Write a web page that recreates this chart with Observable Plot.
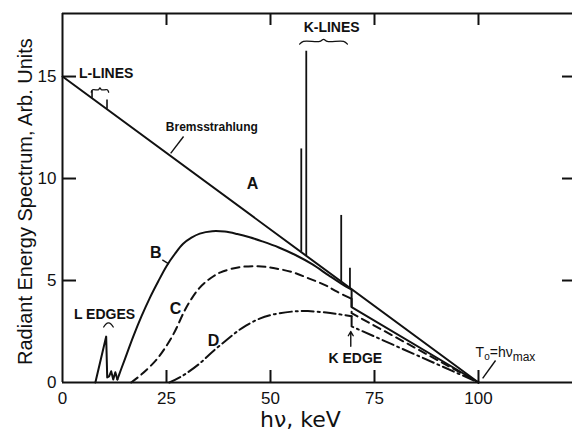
<!DOCTYPE html>
<html><head><meta charset="utf-8">
<script src="https://cdn.jsdelivr.net/npm/d3@7"></script>
<script src="https://cdn.jsdelivr.net/npm/@observablehq/plot@0.6"></script>
<style>body{margin:0;background:#fff;} svg{display:block}</style>
</head><body><div id="chart"></div>
<script>
// ---- data ----
const xTicks = [0, 25, 50, 75, 100];
const yTicks = [0, 5, 10, 15];
const innerXTicks = [25, 50, 75, 100];
const innerYTicks = [5, 10, 15];

// A: unfiltered bremsstrahlung
const aEnergy = [0, 100];
const aValue = [15, 0];
// characteristic lines (spikes)
const lLineEnergy = [7.1, 10.7];
const lLineBase = [13.93, 13.4];
const lLineTop = [14.3, 13.85];
const kLineEnergy = [57.4, 58.6, 67.0, 69.1];
const kLineBase = [6.39, 6.21, 4.95, 4.6];
const kLineTop = [11.45, 16.24, 8.19, 5.6];
// B
const bEdgeEnergy = [7.9, 10.5, 10.75, 11.2, 11.7, 12.2, 12.7, 13.2];
const bEdgeValue = [0, 2.25, 0.25, 0.3, 0.55, 0.15, 0.5, 0.15];
const bEnergy = [13.2, 14, 15, 17, 19, 21, 23, 25, 27, 29, 31, 33, 36, 39, 42, 45, 48, 52, 56, 60, 64, 67, 69.5];
const bValue = [0.15, 0.6, 1.15, 2.25, 3.25, 4.15, 4.95, 5.7, 6.3, 6.8, 7.1, 7.3, 7.42, 7.4, 7.28, 7.12, 6.92, 6.62, 6.25, 5.8, 5.25, 4.85, 4.55];
const bTailEnergy = [69.5, 69.5, 100];
const bTailValue = [4.55, 3.7, 0];
// C
const cEnergy = [16.5, 19, 22.5, 25, 27, 29.3, 31, 33, 35.5, 38, 42.5, 47, 51, 55.4, 59, 63.4, 66, 69.5];
const cValue = [0, 0.4, 1.1, 1.8, 2.5, 3.5, 4.1, 4.65, 5.1, 5.4, 5.65, 5.7, 5.6, 5.4, 5.12, 4.75, 4.45, 4.1];
const cTailEnergy = [69.5, 69.5, 100];
const cTailValue = [4.1, 3.4, 0];
// D
const dEnergy = [25.7, 29, 32.9, 36, 39.3, 42, 44.1, 47.4, 51, 55.4, 59, 63.4, 66, 69.5];
const dValue = [0, 0.35, 0.92, 1.5, 2.06, 2.5, 2.79, 3.13, 3.35, 3.48, 3.5, 3.43, 3.36, 3.25];
const dTailEnergy = [69.5, 69.5, 100];
const dTailValue = [3.25, 2.75, 0];

// ---- build ----
const pts = (xs, ys) => xs.map((x, i) => ({x, y: ys[i]}));
const spikes = (xs, b, t) => xs.map((x, i) => ({x, y1: b[i], y2: t[i]}));
const INK = "#111";
const X0 = 0, X1 = 122.6, Y0 = 0, Y1 = 18.09;
const frameW = 572 - 62, frameH = 433 - 13 - 51;

function brace(x0, x1, y, h) {
  const m = (x0 + x1) / 2, w = (x1 - x0) * 0.08;
  return [
    {x: x0, y: y - h}, {x: x0 + w, y: y}, {x: m - w, y: y},
    {x: m, y: y + h * 0.8}, {x: m + w, y: y}, {x: x1 - w, y: y}, {x: x1, y: y - h}
  ];
}

const lw = 2;
const chart = Plot.plot({
  width: 572, height: 433,
  marginLeft: 62, marginRight: 0, marginTop: 13, marginBottom: 51,
  x: {domain: [X0, X1]},
  y: {domain: [Y0, Y1]},
  style: {fontFamily: "'Liberation Sans', Arial, sans-serif", background: "#fff", color: INK, overflow: "visible"},
  marks: [
    // axes labels
    Plot.axisX({ticks: xTicks, tickSize: 0, tickPadding: 9, fontSize: 17, label: null}),
    Plot.axisY({ticks: yTicks, tickSize: 0, tickPadding: 6, fontSize: 17, label: null}),
    // frame (left, bottom, top)
    Plot.ruleX([X0], {stroke: INK, strokeWidth: 2}),
    Plot.ruleY([Y0], {stroke: INK, strokeWidth: 2}),
    Plot.ruleY([Y1], {stroke: INK, strokeWidth: 2}),
    // inward ticks
    Plot.ruleX(innerXTicks, {stroke: INK, strokeWidth: 2, insetTop: frameH - 12}),
    Plot.ruleX(innerXTicks, {stroke: INK, strokeWidth: 2, insetBottom: frameH - 12}),
    Plot.ruleY(innerYTicks, {stroke: INK, strokeWidth: 2, insetRight: frameW - 14}),
    Plot.ruleY(innerYTicks, {stroke: INK, strokeWidth: 2, insetLeft: frameW - 10}),
    // curve A + lines
    Plot.line(pts(aEnergy, aValue), {x: "x", y: "y", stroke: INK, strokeWidth: lw}),
    Plot.ruleX(spikes(lLineEnergy, lLineBase, lLineTop), {x: "x", y1: "y1", y2: "y2", stroke: INK, strokeWidth: 1.6}),
    Plot.ruleX(spikes(kLineEnergy, kLineBase, kLineTop), {x: "x", y1: "y1", y2: "y2", stroke: INK, strokeWidth: 1.8}),
    // B
    Plot.line(pts(bEdgeEnergy, bEdgeValue), {x: "x", y: "y", stroke: INK, strokeWidth: lw}),
    Plot.line(pts(bEnergy, bValue), {x: "x", y: "y", stroke: INK, strokeWidth: lw, curve: "catmull-rom"}),
    Plot.line(pts(bTailEnergy, bTailValue), {x: "x", y: "y", stroke: INK, strokeWidth: lw}),
    // C
    Plot.line(pts(cEnergy, cValue), {x: "x", y: "y", stroke: INK, strokeWidth: lw, curve: "catmull-rom", strokeDasharray: "8,5"}),
    Plot.line(pts(cTailEnergy, cTailValue), {x: "x", y: "y", stroke: INK, strokeWidth: lw, strokeDasharray: "8,5"}),
    // D
    Plot.line(pts(dEnergy, dValue), {x: "x", y: "y", stroke: INK, strokeWidth: lw, curve: "catmull-rom", strokeDasharray: "12,4,2,4"}),
    Plot.line(pts(dTailEnergy, dTailValue), {x: "x", y: "y", stroke: INK, strokeWidth: lw, strokeDasharray: "12,4,2,4"}),
    // braces
    Plot.line(brace(6.9, 11.1, 14.35, 0.12), {x: "x", y: "y", stroke: INK, strokeWidth: 1.3, curve: "catmull-rom"}),
    Plot.line(brace(57.0, 68.5, 16.72, 0.13), {x: "x", y: "y", stroke: INK, strokeWidth: 1.3, curve: "catmull-rom"}),
    Plot.line([{x: 9.9, y: 2.72}, {x: 10.4, y: 2.86}, {x: 11.06, y: 2.92}, {x: 11.7, y: 2.86}, {x: 12.2, y: 2.72}],
      {x: "x", y: "y", stroke: INK, strokeWidth: 1.3, curve: "catmull-rom"}),
    // pointers
    Plot.link([
      {x1: 29.1, y1: 12.06, x2: 26.0, y2: 11.23},
      {x1: 24.0, y1: 6.01, x2: 25.55, y2: 5.82},
      {x1: 104.1, y1: 1.08, x2: 101.0, y2: 0.2}
    ], {x1: "x1", y1: "y1", x2: "x2", y2: "y2", stroke: INK, strokeWidth: 1.4}),
    Plot.arrow([{x1: 69.3, y1: 1.78, x2: 69.3, y2: 2.5}], {x1: "x1", y1: "y1", x2: "x2", y2: "y2", stroke: INK, strokeWidth: 1.4, headLength: 7}),
    // annotation texts
    Plot.text([
      {x: 10.5, y: 15.15, t: "L-LINES", s: 14},
      {x: 64.7, y: 17.4, t: "K-LINES", s: 14},
      {x: 35.9, y: 12.5, t: "Bremsstrahlung", s: 12},
      {x: 45.7, y: 9.75, t: "A", s: 16},
      {x: 22.4, y: 6.37, t: "B", s: 16},
      {x: 27.2, y: 3.63, t: "C", s: 16},
      {x: 36.3, y: 2.06, t: "D", s: 16},
      {x: 10.1, y: 3.33, t: "L EDGES", s: 14},
      {x: 70.4, y: 1.18, t: "K EDGE", s: 14}
    ], {x: "x", y: "y", text: "t", fontSize: "s", fontWeight: "bold", fill: INK}),
    Plot.text([{x: 99.3, y: 1.45, t: "T0=hνmax"}], {x: "x", y: "y", text: "t", fontSize: 14, textAnchor: "start", fill: INK}),
    // axis titles
    Plot.text([{x: -8.9, y: 8.87, t: "Radiant Energy Spectrum, Arb. Units"}], {x: "x", y: "y", text: "t", rotate: -90, fontSize: 20, fill: INK}),
    Plot.text([{x: 57.2, y: -1.86, t: "hν, keV"}], {x: "x", y: "y", text: "t", fontSize: 22, fill: INK, fontFamily: "'DejaVu Sans', sans-serif"})
  ]
});

// subscript formatting for T0 = hν_max
d3.select(chart).selectAll("text").filter(function() { return this.textContent === "T0=hνmax"; })
  .each(function() {
    const t = d3.select(this);
    t.text(null);
    t.append("tspan").text("T");
    t.append("tspan").attr("font-size", 10).attr("dy", 3).text("o");
    t.append("tspan").attr("dy", -3).text("=hν");
    t.append("tspan").attr("font-size", 12).attr("dy", 4).text("max");
  });

document.getElementById("chart").appendChild(chart);
</script>
</body></html>
